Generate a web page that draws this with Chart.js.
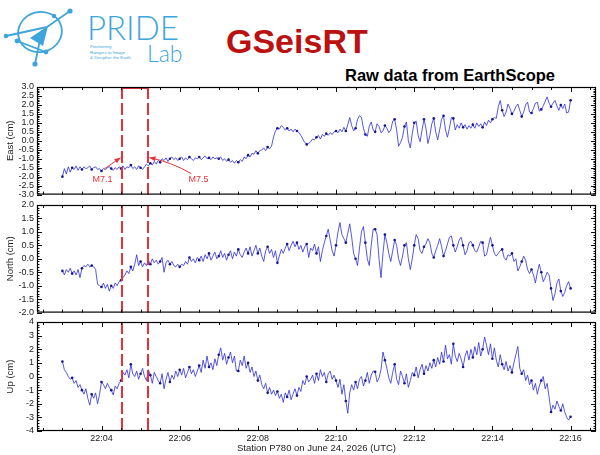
<!DOCTYPE html>
<html><head><meta charset="utf-8">
<script src="https://cdn.jsdelivr.net/npm/chart.js@4"></script>
<style>
html,body{margin:0;padding:0;background:#fff;}
#wrap{position:relative;width:600px;height:455px;overflow:hidden;background:#fff;}
canvas{position:absolute;left:0;}
svg{position:absolute;left:0;top:0;}
</style></head><body>
<div id="wrap">
<svg width="600" height="90" viewBox="0 0 600 90">
  <g stroke="#3ea4dc" fill="none" stroke-width="1.8">
    <ellipse cx="40" cy="32" rx="22" ry="20" transform="rotate(-15 40 32)"/>
    <line x1="6" y1="36" x2="47" y2="27"/>
    <line x1="47" y1="27" x2="70" y2="11"/>
    <line x1="42" y1="30" x2="35" y2="64"/>
    <line x1="17" y1="41" x2="46" y2="52"/>
  </g>
  <g fill="#3ea4dc">
    <polygon points="30,38 48,26 43,46"/>
    <circle cx="6" cy="36" r="2.3"/><circle cx="70" cy="11" r="2.6"/><circle cx="17" cy="41" r="2.4"/>
    <circle cx="46" cy="52" r="2.4"/><circle cx="35" cy="64" r="2.6"/><circle cx="54" cy="16" r="2.2"/>
  </g>
  <text x="87" y="40" font-family="Lato, 'Open Sans', sans-serif" font-weight="300" font-size="33" fill="#3ea4dc">PRIDE</text>
  <text x="147" y="62" font-family="Lato, 'Open Sans', sans-serif" font-weight="300" font-size="23" fill="#3ea4dc">Lab</text>
  <text font-family="'Liberation Sans', Arial, sans-serif" font-size="4.4" fill="#3ea4dc">
    <tspan x="90" y="48">Positioning</tspan>
    <tspan x="90" y="53.5">Rangers to Image</tspan>
    <tspan x="90" y="59">&amp; Decipher the Earth</tspan>
  </text>
  <text x="226" y="53" font-family="'Liberation Sans', Arial, sans-serif" font-weight="bold" font-size="34" fill="#bb1111">GSeisRT</text>
  <text x="345" y="81" font-family="'Liberation Sans', Arial, sans-serif" font-weight="bold" font-size="16.5" fill="#000">Raw data from EarthScope</text>
</svg>
<canvas id="cE" width="600" height="126" style="top:77px"></canvas>
<canvas id="cN" width="600" height="126" style="top:195px"></canvas>
<canvas id="cU" width="600" height="143" style="top:312px"></canvas>
</div>
<script>
// ---- data (seconds after 22:00:00 UTC, sampled every 3 s from 22:03:00 to 22:16:00) ----
const startSec = 180;
const stepSec = 3;
const eastCm = [
-2.0,-1.55,-1.85,-1.45,-1.75,-1.5,-1.6,-1.4,-1.65,-1.45,
-1.6,-1.45,-1.55,-1.5,-1.4,-1.6,-1.5,-1.45,-1.6,-1.55,
-1.68,-1.55,-1.6,-1.5,-1.45,-1.55,-1.65,-1.5,-1.6,-1.45,
-1.55,-1.4,-1.6,-1.45,-1.5,-1.35,-1.55,-1.45,-1.6,-1.4,
-1.5,-1.6,-1.45,-1.3,-1.4,-1.25,-1.35,-1.15,-1.3,-1.1,
-1.2,-1.0,-1.1,-0.95,-1.15,-1.0,-0.9,-1.05,-0.95,-1.1,
-1.0,-0.9,-1.1,-0.95,-1.05,-0.9,-1.0,-1.1,-0.95,-1.0,
-0.9,-1.05,-0.95,-0.85,-1.0,-0.95,-1.05,-0.9,-1.0,-0.95,
-1.0,-0.9,-1.1,-1.0,-1.15,-1.05,-1.2,-1.1,-1.25,-1.1,
-1.2,-1.05,-1.15,-0.9,-1.0,-0.8,-0.9,-0.7,-0.75,-0.55,
-0.7,-0.55,-0.5,-0.4,-0.55,-0.35,-0.45,-0.3,0.2,0.55,
0.7,0.65,0.85,0.75,0.6,0.7,0.55,0.65,0.5,0.65,
0.55,0.45,0.3,0.1,-0.1,-0.2,-0.15,-0.05,0.1,0.05,
0.2,0.3,0.1,0.35,0.25,0.4,0.3,0.45,0.35,0.5,
0.55,0.45,0.65,0.5,0.75,0.55,0.9,1.3,0.85,0.55,
0.7,1.2,1.4,1.3,0.7,0.35,0.25,0.8,1.05,0.6,
0.5,0.95,0.8,0.45,0.55,0.85,0.7,0.45,0.6,1.1,
1.2,0.6,-0.3,-0.1,0.2,0.8,1.05,0.0,-0.4,0.4,
1.0,1.1,0.3,-0.05,0.6,1.2,0.7,-0.15,0.3,0.95,
1.25,0.5,0.05,0.6,1.2,1.4,0.6,0.2,0.7,1.3,
1.25,0.6,0.9,0.7,1.0,0.75,0.9,0.65,0.85,0.7,
0.9,0.7,1.0,0.8,0.95,0.75,1.05,0.85,1.15,1.0,
1.2,1.3,1.25,1.9,2.25,1.7,1.35,1.6,2.05,1.8,
1.5,1.65,1.9,2.05,1.7,1.35,1.6,2.0,2.15,1.6,
1.55,1.8,2.1,2.15,1.65,1.75,1.95,2.2,2.45,2.1,
1.9,2.1,2.25,1.95,1.7,2.0,1.8,2.05,1.55,1.6,
2.26];
const northCm = [
-0.45,-0.6,-0.4,-0.5,-0.35,-0.55,-0.45,-0.6,-0.4,-0.7,
-0.35,-0.25,-0.3,-0.2,-0.3,-0.25,-0.3,-0.4,-0.95,-1.0,
-1.05,-0.9,-1.1,-0.95,-1.2,-1.0,-1.1,-0.9,-1.0,-0.85,
-0.8,-0.7,-0.6,-0.45,-0.55,-0.3,-0.45,-0.2,0.15,-0.25,
-0.1,-0.3,-0.15,-0.25,-0.05,-0.2,0.0,-0.15,-0.05,-0.2,
-0.1,0.05,-0.5,-0.15,-0.05,-0.2,-0.1,-0.25,-0.3,-0.2,
-0.3,-0.2,-0.25,-0.1,-0.2,0.05,-0.1,0.0,-0.15,0.05,
-0.05,0.1,-0.1,0.15,0.0,0.2,-0.05,0.1,0.25,0.0,
0.1,0.3,0.05,0.2,-0.05,0.15,0.3,0.0,0.25,0.1,
0.35,0.15,0.05,0.25,0.4,0.2,0.45,0.1,0.3,0.5,
0.2,0.4,0.1,-0.1,0.3,0.45,0.2,0.35,0.05,0.3,
-0.15,0.1,0.35,0.2,0.4,0.55,0.3,0.5,0.65,0.45,
0.6,0.35,0.5,0.25,0.45,0.55,0.05,0.4,0.3,0.55,
0.2,0.45,-0.1,0.3,0.6,0.85,1.1,0.7,0.3,0.1,
0.5,1.0,1.35,0.9,0.75,0.6,0.95,1.3,0.8,0.2,
0.0,-0.25,0.4,1.0,1.2,0.6,0.0,-0.25,0.5,1.1,
1.1,0.9,0.0,-0.7,0.2,0.9,0.6,0.2,-0.1,0.3,
0.7,0.5,0.0,-0.25,0.1,0.5,0.6,0.0,-0.4,0.0,
0.5,0.9,0.75,0.3,0.2,0.45,0.55,0.75,0.6,0.2,
0.05,0.3,0.5,0.75,0.45,0.1,0.3,0.55,0.8,0.85,
0.5,0.25,0.45,0.7,0.8,0.5,0.15,0.3,0.6,0.65,
0.5,0.3,0.25,0.45,0.65,0.6,0.1,0.15,0.5,0.8,
0.5,0.2,0.1,0.2,0.3,0.35,0.05,-0.05,0.15,0.1,
0.2,-0.1,0.0,-0.45,-0.3,-0.1,0.1,-0.05,-0.4,-0.55,
-0.4,-0.6,-0.9,-0.5,-0.2,-0.5,-0.85,-0.7,-0.5,-0.6,
-1.1,-1.55,-1.3,-0.9,-0.75,-1.2,-1.4,-1.25,-1.0,-0.85,
-1.1];
const upCm = [
1.1,0.5,0.3,0.0,-0.2,-0.1,-0.5,-0.3,-0.8,-0.6,
-1.0,-1.3,-0.9,-1.6,-2.1,-1.3,-1.6,-1.2,-2.0,-1.3,
-0.4,-0.6,-0.9,-0.5,-0.8,-1.0,-1.35,-0.7,-0.9,-0.5,
-0.3,0.3,0.1,0.5,-0.1,0.9,0.2,0.0,0.4,-0.2,
0.2,0.6,0.0,-0.3,0.5,0.1,-0.5,0.3,0.0,-0.3,
-0.5,0.2,-0.9,-0.2,0.3,-0.4,0.1,-0.2,0.4,0.0,
0.5,0.1,0.6,-0.1,0.3,0.7,0.2,0.5,0.0,0.4,
0.8,0.3,1.2,0.6,1.5,0.7,1.0,0.5,1.3,0.8,
1.6,2.1,1.2,1.7,0.9,1.4,1.8,1.0,1.5,0.4,
0.4,1.2,0.8,1.5,0.6,1.0,0.3,0.7,0.0,0.4,
-0.3,0.1,-0.6,-0.9,-0.5,-1.2,-0.8,-1.3,-1.0,-1.4,
-1.1,-1.6,-1.3,-1.9,-1.2,-1.5,-1.0,-1.7,-1.3,-0.9,
-1.4,-0.8,-1.1,-0.3,-0.6,0.0,-0.4,-0.2,0.1,-0.5,
0.2,-0.3,0.5,0.0,0.3,-0.4,0.2,0.4,-0.2,0.1,
-0.3,-0.8,-0.2,-1.3,-0.6,-1.8,-2.7,-1.2,-0.6,-1.0,
-0.4,-0.9,-0.2,0.0,-0.7,-0.3,0.3,-0.5,0.1,0.4,
0.35,-0.4,-0.1,0.5,1.8,1.2,0.6,-0.1,-0.5,0.3,
0.9,-0.2,-0.6,0.4,0.0,-0.5,0.2,-0.8,-0.3,0.3,
0.1,0.7,-0.1,0.5,0.9,0.2,0.8,0.4,1.0,0.6,
1.2,0.7,1.4,0.9,1.8,1.1,2.3,1.3,1.6,0.9,
2.4,1.5,1.1,1.7,1.3,0.7,1.5,1.9,1.2,2.0,
1.4,2.2,1.6,2.5,1.5,2.0,2.9,2.3,1.6,2.4,
1.3,2.1,1.2,0.7,1.6,0.9,0.5,1.1,0.4,0.8,
0.3,1.0,1.6,2.2,0.6,0.2,0.5,-0.3,0.1,-0.6,
-0.3,-1.0,-0.5,-1.3,-0.7,-0.3,0.0,-0.9,-0.5,-1.5,
-2.6,-2.1,-2.4,-1.8,-2.2,-2.5,-2.0,-2.6,-3.0,-3.2,
-2.95];
// event markers (seconds after 22:00:00) and labels
const eventSec = [272, 311];
const eventLabels = ['M7.1', 'M7.5'];
// label anchor [sec, cm], arrow start [sec, cm], arrow end [sec, cm] on the East panel
const eventLabelPos = [[241.6, -2.17], [388.8, -2.17]];
const eventArrowFrom = [[244.6, -1.56], [377.9, -1.83]];
const eventArrowTo = [[269.2, -0.94], [313.6, -0.94]];
const xTickLabels = {240:'22:04', 360:'22:06', 480:'22:08', 600:'22:10', 720:'22:12', 840:'22:14', 960:'22:16'};

const FONT = "'Liberation Sans', Arial, sans-serif";
const RED = 'rgb(232,50,58)';

function pts(arr){ return arr.map((v,i)=>({x:startSec+i*stepSec, y:v})); }

const framePlugin = {
  id:'frame',
  afterDatasetsDraw(chart, args, o){
    const {ctx, chartArea:a, scales:{x,y}} = chart;
    ctx.save();
    // event lines
    ctx.strokeStyle = RED; ctx.lineWidth = 2; ctx.setLineDash([12,4]);
    const ex = eventSec.map(s=>Math.round(x.getPixelForValue(s)));
    ex.forEach(px=>{ ctx.beginPath(); ctx.moveTo(px, a.top); ctx.lineTo(px, a.bottom); ctx.stroke(); });
    ctx.setLineDash([]);
    if (o.topBar){ ctx.beginPath(); ctx.moveTo(ex[0], a.top+1); ctx.lineTo(ex[1], a.top+1); ctx.stroke(); }
    if (o.annot){
      ctx.lineWidth = 1; ctx.strokeStyle = RED; ctx.fillStyle = RED;
      ctx.font = '9px ' + FONT; ctx.textAlign='center'; ctx.textBaseline='middle';
      eventLabels.forEach((t,i)=>{
        ctx.fillText(t, x.getPixelForValue(eventLabelPos[i][0]), y.getPixelForValue(eventLabelPos[i][1]));
        const x0=x.getPixelForValue(eventArrowFrom[i][0]), y0=y.getPixelForValue(eventArrowFrom[i][1]);
        const x1=x.getPixelForValue(eventArrowTo[i][0]), y1=y.getPixelForValue(eventArrowTo[i][1]);
        const mx=(x0+x1)/2, my=(y0+y1)/2 + (i===1? -4:0);
        ctx.beginPath(); ctx.moveTo(x0,y0); ctx.quadraticCurveTo(mx,my,x1,y1); ctx.stroke();
        const ang=Math.atan2(y1-my, x1-mx), L=6, W=2.5;
        ctx.beginPath(); ctx.moveTo(x1,y1);
        ctx.lineTo(x1-L*Math.cos(ang)+W*Math.sin(ang), y1-L*Math.sin(ang)-W*Math.cos(ang));
        ctx.lineTo(x1-L*Math.cos(ang)-W*Math.sin(ang), y1-L*Math.sin(ang)+W*Math.cos(ang));
        ctx.closePath(); ctx.fill();
      });
    }
    // inward ticks
    ctx.strokeStyle = '#111'; ctx.lineWidth = 1;
    ctx.beginPath();
    for (let s=150; s<=990; s+=30){
      const px = Math.round(x.getPixelForValue(s))+0.5;
      const L = (s%120===0)?5:3;
      ctx.moveTo(px, a.top); ctx.lineTo(px, a.top+L);
      ctx.moveTo(px, a.bottom); ctx.lineTo(px, a.bottom-L);
    }
    const n = Math.round((o.yMax-o.yMin)/o.minor);
    for (let k=0;k<=n;k++){
      const v = o.yMin + k*o.minor;
      const py = Math.round(y.getPixelForValue(v))+0.5;
      const isMaj = Math.abs(v/o.major - Math.round(v/o.major))<1e-6;
      const L = isMaj?5:2.5;
      ctx.moveTo(a.left, py); ctx.lineTo(a.left+L, py);
      ctx.moveTo(a.right, py); ctx.lineTo(a.right-L, py);
    }
    ctx.stroke();
    ctx.strokeStyle = '#000'; ctx.lineWidth = 1.2;
    ctx.strokeRect(a.left+0.5, a.top+0.5, a.width-1, a.height-1);
    ctx.restore();
  }
};

function makeChart(id, values, title, yMin, yMax, major, minor, decimals, showX, pad, extra){
  return new Chart(document.getElementById(id), {
    type:'line',
    data:{datasets:[{
      data:pts(values),
      borderColor:'rgb(45,45,215)', borderWidth:0.8, tension:0,
      pointRadius:(c)=> c.dataIndex%5===0 ? 1.3 : 0,
      pointBackgroundColor:'rgb(20,20,150)', pointBorderWidth:0
    }]},
    options:{
      responsive:false, animation:false, events:[],
      layout:{padding:{top:pad[0], bottom:pad[1], left:0, right:3}},
      plugins:{legend:{display:false}, tooltip:{enabled:false},
        frame:Object.assign({yMin, yMax, major, minor}, extra)},
      scales:{
        x:{type:'linear', min:141, max:999,
           grid:{display:false, drawTicks:false}, border:{display:false},
           ticks:{display:showX, stepSize:30, includeBounds:false, autoSkip:false, maxRotation:0,
             padding:2, color:'#222', font:{family:FONT, size:9},
             callback:(v)=> xTickLabels[v] || ''},
           title:{display:showX, text:'Station P780 on June 24, 2026 (UTC)', color:'#222',
             font:{family:FONT, size:9.5}, padding:{top:0, bottom:1}},
           afterFit:(s)=>{ s.height = showX ? 24 : 0; }
        },
        y:{min:yMin, max:yMax,
           grid:{display:false, drawTicks:false}, border:{display:false},
           ticks:{stepSize:major, autoSkip:false, padding:3, color:'#222', font:{family:FONT, size:9},
             callback:(v)=> Number(v).toFixed(decimals)},
           title:{display:true, text:title, color:'#222', font:{family:FONT, size:9.5}, padding:{top:5,bottom:0}},
           afterFit:(s)=>{ s.width = 37; }
        }
      }
    },
    plugins:[framePlugin]
  });
}
makeChart('cE', eastCm, 'East (cm)', -3, 3, 0.5, 0.1, 1, false, [10,8], {topBar:true, annot:true});
makeChart('cN', northCm, 'North (cm)', -2, 2, 0.5, 0.1, 1, false, [10,8], {});
makeChart('cU', upCm, 'Up (cm)', -4, 4, 1, 0.2, 0, true, [10,0], {});
</script>
</body></html>
